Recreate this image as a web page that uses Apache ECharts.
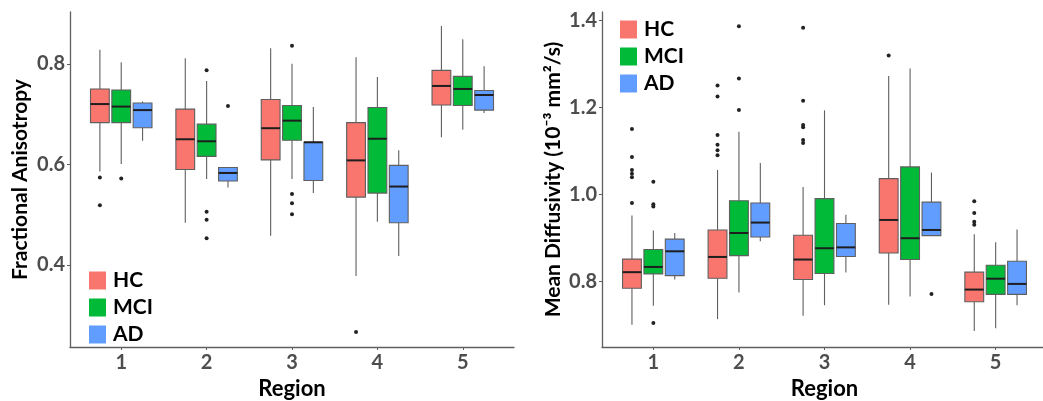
<!DOCTYPE html>
<html><head><meta charset="utf-8">
<script src="https://cdn.jsdelivr.net/npm/echarts@6/dist/echarts.min.js"></script>
<style>html,body{margin:0;padding:0;background:#fff}#c{width:1043px;height:401px}</style>
</head><body><div id="c"></div>
<script>
const regions = ['1', '2', '3', '4', '5'];
const groups = ['HC', 'MCI', 'AD'];
const colors = ['#F8766D', '#00BA38', '#619CFF'];
const faTicks = [0.4, 0.6, 0.8];
const mdTicks = [0.8, 1.0, 1.2, 1.4];

// Fractional anisotropy: [lower whisker, Q1, median, Q3, upper whisker] per region
const faHC  = [[0.586,0.683,0.720,0.750,0.828],[0.484,0.590,0.650,0.710,0.811],[0.458,0.609,0.672,0.729,0.831],[0.378,0.535,0.608,0.683,0.813],[0.654,0.718,0.756,0.787,0.875]];
const faMCI = [[0.601,0.683,0.715,0.748,0.803],[0.571,0.616,0.646,0.680,0.766],[0.571,0.648,0.687,0.717,0.800],[0.486,0.543,0.651,0.713,0.774],[0.669,0.717,0.750,0.775,0.849]];
const faAD  = [[0.647,0.673,0.708,0.722,0.725],[0.554,0.567,0.583,0.594,0.594],[0.543,0.568,0.644,0.644,0.714],[0.418,0.484,0.556,0.598,0.628],[0.702,0.708,0.738,0.747,0.795]];
// outliers: [region, value]
const faHCOut  = [[1,0.574],[1,0.519],[4,0.267]];
const faMCIOut = [[1,0.572],[2,0.787],[2,0.506],[2,0.490],[2,0.453],[3,0.836],[3,0.541],[3,0.523],[3,0.501]];
const faADOut  = [[2,0.716]];

// Mean diffusivity (10^-3 mm^2/s)
const mdHC  = [[0.701,0.785,0.822,0.852,0.952],[0.714,0.808,0.857,0.919,1.057],[0.722,0.805,0.851,0.907,1.018],[0.747,0.866,0.942,1.037,1.273],[0.687,0.754,0.782,0.822,0.909]];
const mdMCI = [[0.745,0.818,0.834,0.874,0.918],[0.775,0.860,0.912,0.986,1.145],[0.746,0.819,0.877,0.991,1.194],[0.766,0.851,0.900,1.064,1.290],[0.693,0.771,0.807,0.838,0.891]];
const mdAD  = [[0.805,0.814,0.870,0.898,0.912],[0.893,0.903,0.936,0.981,1.073],[0.821,0.858,0.879,0.934,0.954],[0.906,0.906,0.919,0.983,1.051],[0.746,0.771,0.795,0.847,0.920]];
const mdHCOut  = [[1,1.151],[1,1.087],[1,1.057],[1,1.048],[1,1.040],[1,0.981],[2,1.251],[2,1.226],[2,1.137],[2,1.115],[2,1.102],[2,1.091],[3,1.384],[3,1.216],[3,1.160],[3,1.155],[3,1.126],[3,1.119],[4,1.320],[5,0.985],[5,0.958],[5,0.938],[5,0.931]];
const mdMCIOut = [[1,1.030],[1,0.978],[1,0.973],[1,0.705],[2,1.387],[2,1.267],[2,1.195]];
const mdADOut  = [[4,0.772]];

const FONT = 'Lato';
const DODGE = 0.25, HALF = 0.11;
const lineCol = '#5f5f5f';

function boxRender(offset) {
  return function (params, api) {
    const x = api.value(0);
    const low = api.value(1), q1 = api.value(2), med = api.value(3), q3 = api.value(4), high = api.value(5);
    const unit = api.size([1, 0])[0];
    const cx = api.coord([x, med])[0] + offset * unit;
    const hw = HALF * unit;
    const y = v => api.coord([x, v])[1];
    const color = api.visual('color');
    return { type: 'group', children: [
      { type: 'line', shape: { x1: cx, y1: y(high), x2: cx, y2: y(q3) }, style: { stroke: lineCol, lineWidth: 1.1 } },
      { type: 'line', shape: { x1: cx, y1: y(q1), x2: cx, y2: y(low) }, style: { stroke: lineCol, lineWidth: 1.1 } },
      { type: 'rect', shape: { x: cx - hw, y: y(q3), width: 2 * hw, height: y(q1) - y(q3) }, style: { fill: color, stroke: lineCol, lineWidth: 1.1 } },
      { type: 'line', shape: { x1: cx - hw, y1: y(med), x2: cx + hw, y2: y(med) }, style: { stroke: '#1e1e1e', lineWidth: 2 } }
    ]};
  };
}
function outRender(offset) {
  return function (params, api) {
    const unit = api.size([1, 0])[0];
    const p = api.coord([api.value(0), api.value(1)]);
    return { type: 'circle', shape: { cx: p[0] + offset * unit, cy: p[1], r: 2 }, style: { fill: '#222' } };
  };
}

const panels = [
  { stats: [faHC, faMCI, faAD], outs: [faHCOut, faMCIOut, faADOut] },
  { stats: [mdHC, mdMCI, mdAD], outs: [mdHCOut, mdMCIOut, mdADOut] }
];
const series = [];
panels.forEach((p, pi) => {
  groups.forEach((g, gi) => {
    const off = (gi - 1) * DODGE;
    series.push({
      type: 'custom', name: g, xAxisIndex: pi, yAxisIndex: pi,
      itemStyle: { color: colors[gi] },
      encode: { x: 0, y: [1, 2, 3, 4, 5] },
      renderItem: boxRender(off),
      data: p.stats[gi].map((s, ri) => [ri + 1].concat(s)),
      silent: true
    });
    series.push({
      type: 'custom', name: g + ' outliers', xAxisIndex: pi, yAxisIndex: pi,
      itemStyle: { color: '#222' },
      encode: { x: 0, y: 1 },
      renderItem: outRender(off),
      data: p.outs[gi],
      silent: true
    });
  });
});

const tickVals = regions.map((r, i) => i + 1);
function xAxis(gi) {
  return {
    type: 'value', gridIndex: gi, min: 0.4, max: 5.6,
    name: 'Region', nameLocation: 'middle', nameGap: 29,
    nameTextStyle: { fontFamily: FONT, fontWeight: 'bold', fontSize: 22, color: '#000' },
    axisLine: { lineStyle: { color: lineCol, width: 1.3 } },
    axisTick: { customValues: tickVals, length: 3, lineStyle: { color: lineCol } },
    axisLabel: { customValues: tickVals, formatter: v => regions[Math.round(v) - 1], margin: 6,
      fontFamily: FONT, fontWeight: 'bold', fontSize: 20, color: '#4d4d4d' },
    splitLine: { show: false }
  };
}
function yAxis(gi, min, max, ticks, name, gap) {
  return {
    type: 'value', gridIndex: gi, min: min, max: max,
    name: name, nameLocation: 'middle', nameGap: gap,
    nameTextStyle: { fontFamily: FONT, fontWeight: 'bold', fontSize: 21, color: '#000' },
    axisLine: { show: true, lineStyle: { color: lineCol, width: 1.3 } },
    axisTick: { show: true, customValues: ticks, length: 3, lineStyle: { color: lineCol } },
    axisLabel: { customValues: ticks, formatter: v => v.toFixed(1), margin: 5,
      fontFamily: FONT, fontWeight: 'bold', fontSize: 20, color: '#4d4d4d' },
    splitLine: { show: false }
  };
}
const legendBase = {
  orient: 'vertical', data: groups, icon: 'rect', itemWidth: 17, itemHeight: 18, itemGap: 6,
  textStyle: { fontFamily: FONT, fontWeight: 'bold', fontSize: 21, color: '#000', padding: [0, 0, 0, 2] },
  selectedMode: false
};

const chart = echarts.init(document.getElementById('c'), null, { renderer: 'canvas' });
chart.setOption({
  animation: false,
  backgroundColor: '#fff',
  grid: [
    { left: 70, right: 529, top: 12, bottom: 54, outerBoundsMode: 'none', containLabel: false },
    { left: 602, right: -4, top: 12, bottom: 54, outerBoundsMode: 'none', containLabel: false }
  ],
  xAxis: [xAxis(0), xAxis(1)],
  yAxis: [
    yAxis(0, 0.237, 0.903, faTicks, 'Fractional Anisotropy', 39),
    yAxis(1, 0.65, 1.42, mdTicks, 'Mean Diffusivity (10\u207B\u00B3 mm\u00B2/s)', 38)
  ],
  legend: [
    Object.assign({ left: 84, top: 265 }, legendBase),
    Object.assign({ left: 615, top: 14 }, legendBase)
  ],
  series: series
});
</script></body></html>
